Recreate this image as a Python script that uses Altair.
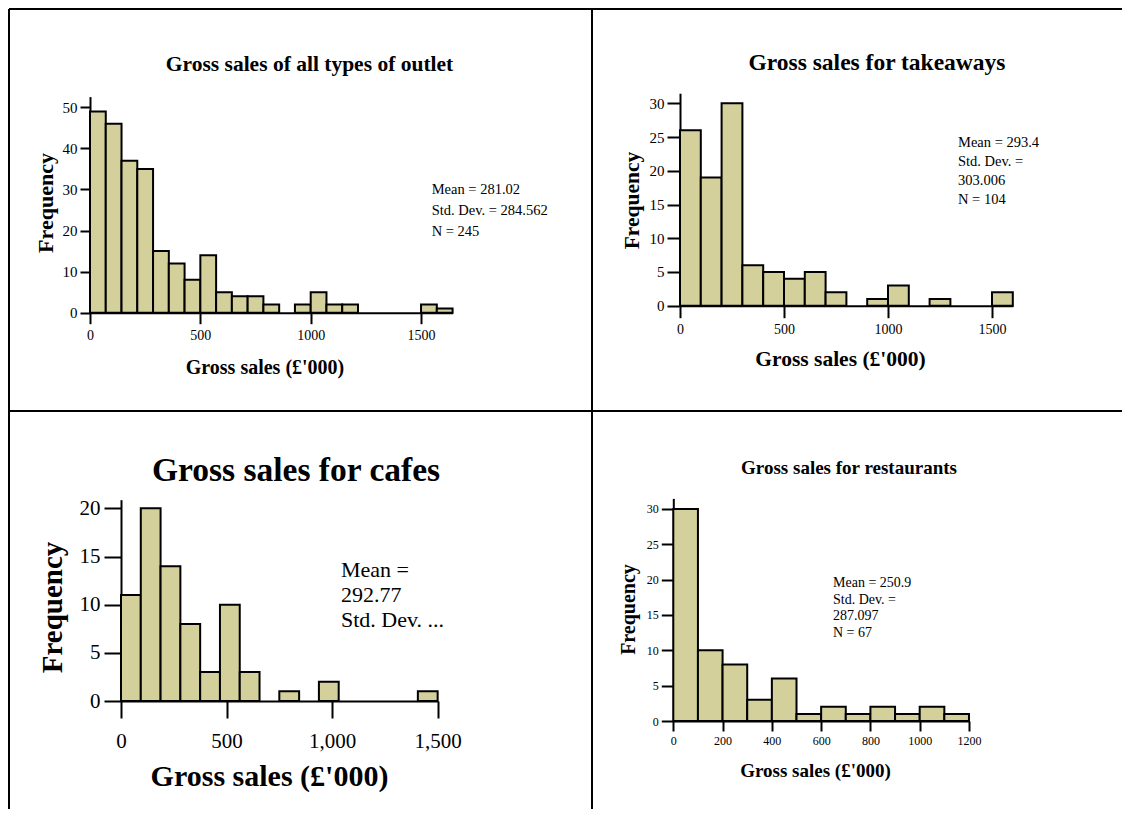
import altair as alt
import pandas as pd

FONT = "Liberation Serif"
BAR_FILL = "#d4d09c"

# ---------------- data ----------------
all_counts = [49, 46, 37, 35, 15, 12, 8, 14, 5, 4, 4, 2, 0, 2, 5, 2, 2, 0, 0, 0, 0, 2, 1]
all_bin = 1500 / 21
take_counts = [26, 19, 30, 6, 5, 4, 5, 2, 0, 1, 3, 0, 1, 0, 0, 2]
take_bin = 100
cafe_counts = [11, 20, 14, 8, 3, 10, 3, 0, 1, 0, 2, 0, 0, 0, 0, 1]
cafe_bin = 93.75
rest_counts = [30, 10, 8, 3, 6, 1, 2, 1, 2, 1, 2, 1]
rest_bin = 100

titles = ["Gross sales of all types of outlet", "Gross sales for takeaways",
          "Gross sales for cafes", "Gross sales for restaurants"]
stats = [
    ["Mean = 281.02", "Std. Dev. = 284.562", "N = 245"],
    ["Mean = 293.4", "Std. Dev. =", "303.006", "N = 104"],
    ["Mean =", "292.77", "Std. Dev. ..."],
    ["Mean = 250.9", "Std. Dev. =", "287.097", "N = 67"],
]
x_ticks = [[0, 500, 1000, 1500], [0, 500, 1000, 1500], [0, 500, 1000, 1500],
           [0, 200, 400, 600, 800, 1000, 1200]]
y_ticks = [[0, 10, 20, 30, 40, 50], [0, 5, 10, 15, 20, 25, 30], [0, 5, 10, 15, 20],
           [0, 5, 10, 15, 20, 25, 30]]
x_title = "Gross sales (£'000)"
y_title = "Frequency"

# ---------------- layout (page pixel positions) ----------------
H2 = 398
layouts = [
    dict(cell=(9, 9, 583, 402), x0=90, xpx=0.2207, xmax=1500 / 21 * 23, y0=312.7, ypx=4.108, ymax=52.6,
         xtick=11, ytick=10, xlab=14, ylab=15, xlabpad=5, ylabpad=3, fmt="d",
         title=(309.5, 70.5, 21.5), xt=(264.5, 373, 20), yt=(45, 202.5, 22), st=(431.7, 194, 14.5, 21),
         borders=[("v", 0, 0, 402), ("h", 0, 0, 583), ("v", 583, 0, 402), ("h", 402, 0, 583)]),
    dict(cell=(592, 9, 530, 402), x0=680, xpx=0.208, xmax=1600, y0=305.7, ypx=6.745, ymax=31.5,
         xtick=12, ytick=13, xlab=14, ylab=15, xlabpad=5, ylabpad=3, fmt="d",
         title=(877, 70, 23.5), xt=(840, 365, 21.5), yt=(632, 200, 21.5), st=(958, 147, 14.5, 19),
         borders=[("h", 0, 0, 530), ("h", 402, 0, 530)]),
    dict(cell=(9, 411, 583, H2), x0=121, xpx=0.2111, xmax=1500, y0=701, ypx=9.633, ymax=20.9,
         xtick=17, ytick=17, xlab=21, ylab=21, xlabpad=12, ylabpad=4, fmt=",.0f",
         title=(296, 481, 33.5), xt=(269, 785, 30), yt=(52, 607, 29), st=(341, 577, 22, 25),
         borders=[("v", 0, 0, H2), ("v", 583, 0, H2)]),
    dict(cell=(592, 411, 530, H2), x0=673.3, xpx=0.2464, xmax=1200, y0=721, ypx=7.067, ymax=31.5,
         xtick=10, ytick=12, xlab=12, ylab=12, xlabpad=4, ylabpad=3, fmt="d",
         title=(849, 474, 19), xt=(815, 776, 19), yt=(628, 609, 20), st=(833, 587, 14, 16.5),
         borders=[]),
]

one = pd.DataFrame({"k": [0]})


def panel(i, counts, binw):
    L = layouts[i]
    ox, oy, W, H = L["cell"]
    x0 = L["x0"] - ox
    x1 = x0 + L["xmax"] * L["xpx"]
    y0 = L["y0"] - oy
    y1 = y0 - L["ymax"] * L["ypx"]
    df = pd.DataFrame({
        "start": [k * binw for k in range(len(counts))],
        "end": [(k + 1) * binw for k in range(len(counts))],
        "count": counts,
    })
    xscale = alt.Scale(domain=[0, L["xmax"]], range=[x0, x1], nice=False, zero=False)
    yscale = alt.Scale(domain=[0, L["ymax"]], range=[y0, y1], nice=False, zero=False)
    common = dict(grid=False, domainColor="black", domainWidth=2, tickColor="black", tickWidth=2,
                  labelFont=FONT, labelColor="black",
                  labelFlush=False, labelOverlap=False,
                  titleFont=FONT, titleFontWeight="bold", titleColor="black")
    xaxis = alt.Axis(orient="bottom", offset=y0 - H, values=x_ticks[i], format=L["fmt"],
                     tickSize=L["xtick"], labelPadding=L["xlabpad"], labelFontSize=L["xlab"],
                     title=x_title, titleFontSize=L["xt"][2],
                     titleX=L["xt"][0] - ox, titleY=L["xt"][1] - L["y0"],
                     titleAlign="center", titleBaseline="alphabetic", **common)
    yaxis = alt.Axis(orient="left", offset=-x0, values=y_ticks[i], format="d",
                     tickSize=L["ytick"], labelPadding=L["ylabpad"], labelFontSize=L["ylab"],
                     title=y_title, titleFontSize=L["yt"][2], titleAngle=270,
                     titleX=L["yt"][0] - L["x0"], titleY=L["yt"][1] - oy,
                     titleAlign="center", titleBaseline="middle", **common)
    bars = alt.Chart(df).transform_filter("datum.count > 0").mark_rect(
        fill=BAR_FILL, stroke="black", strokeWidth=2
    ).encode(
        x=alt.X("start:Q", scale=xscale, axis=xaxis),
        x2="end:Q",
        y=alt.Y("count:Q", scale=yscale, axis=yaxis),
        y2=alt.datum(0),
    )
    title = alt.Chart(pd.DataFrame({"t": [titles[i]]})).mark_text(
        font=FONT, fontSize=L["title"][2], fontWeight="bold", align="center",
        baseline="alphabetic", color="black"
    ).encode(text="t:N", x=alt.value(L["title"][0] - ox), y=alt.value(L["title"][1] - oy))
    st = L["st"]
    stat = alt.Chart(pd.DataFrame({"s": ["\n".join(stats[i])]})).mark_text(
        font=FONT, fontSize=st[2], align="left", baseline="alphabetic", color="black",
        lineBreak="\n", lineHeight=st[3]
    ).encode(text="s:N", x=alt.value(st[0] - ox), y=alt.value(st[1] - oy))
    layers = [bars, title, stat]
    for kind, pos, a, b in L["borders"]:
        r = alt.Chart(one).mark_rule(color="black", strokeWidth=2)
        if kind == "v":
            r = r.encode(x=alt.value(pos), y=alt.value(a), y2=alt.value(b))
        else:
            r = r.encode(y=alt.value(pos), x=alt.value(a), x2=alt.value(b))
        layers.append(r)
    return alt.layer(*layers).properties(width=W, height=H)


p1 = panel(0, all_counts, all_bin)
p2 = panel(1, take_counts, take_bin)
p3 = panel(2, cafe_counts, cafe_bin)
p4 = panel(3, rest_counts, rest_bin)

chart = alt.concat(p1, p2, p3, p4, columns=2, spacing=0, bounds="flush").properties(
    padding=0
).configure_view(stroke=None)

chart.save("out.html", embed_options={"renderer": "svg", "actions": False})
